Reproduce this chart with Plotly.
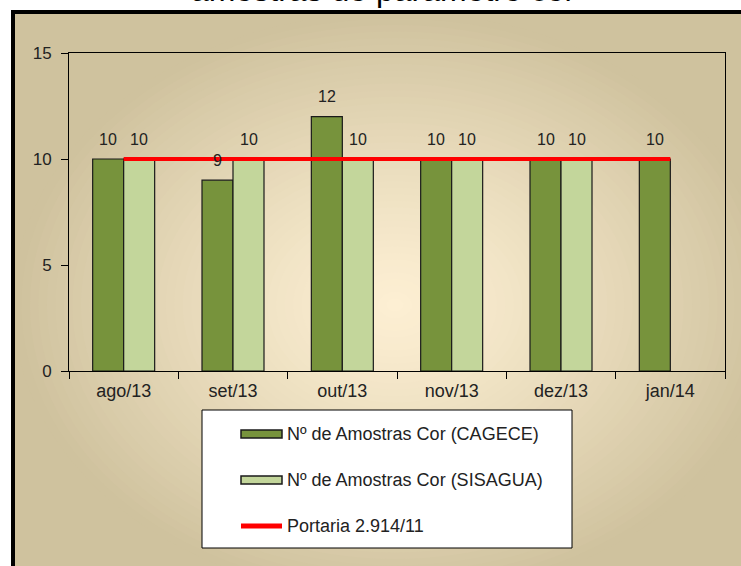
import plotly.graph_objects as go

# ---------------- data ----------------
categories = ["ago/13", "set/13", "out/13", "nov/13", "dez/13", "jan/14"]
cagece = [10, 9, 12, 10, 10, 10]
sisagua = [10, 10, 10, 10, 10, None]
portaria = [10, 10, 10, 10, 10, 10]
series_names = ["Nº de Amostras Cor (CAGECE)", "Nº de Amostras Cor (SISAGUA)", "Portaria 2.914/11"]
y_ticks = [0, 5, 10, 15]
title_text = "amostras do parâmetro cor"

# ---------------- geometry helpers ----------------
W, H = 741, 566
L, R, T, B = 69, 16, 53, 195
PW = W - L - R
PH = H - T - B


def px(x):
    return (x - L) / PW


def py(y):
    return (H - B - y) / PH


FONT = "Liberation Sans, Arial, sans-serif"
TXT = "#222222"
C_DARK = "#77933C"
C_LIGHT = "#C3D69B"
C_RED = "#FF0000"

fig = go.Figure()
fig.add_trace(go.Bar(x=categories, y=cagece, name=series_names[0],
                     marker=dict(color=C_DARK, line=dict(color="#1a1a1a", width=1.2))))
fig.add_trace(go.Bar(x=categories, y=sisagua, name=series_names[1],
                     marker=dict(color=C_LIGHT, line=dict(color="#1a1a1a", width=1.2))))
fig.add_trace(go.Scatter(x=categories, y=portaria, name=series_names[2], mode="lines",
                         line=dict(color=C_RED, width=4)))

shapes = []
# background of chart frame (edge colour), then radial-ish gradient
EDGE = (207, 194, 158)
CENTER = (253, 239, 211)
shapes.append(dict(type="rect", xref="paper", yref="paper", layer="below",
                   x0=px(13), x1=px(800), y0=py(12), y1=py(620),
                   fillcolor="rgb(%d,%d,%d)" % EDGE, line=dict(width=0)))
cx, cy = 395, 305
RX, RY = 382, 293
N = 45
for k in range(N):
    t = 1 - k / N
    f = t ** 1.25
    col = tuple(int(round(CENTER[i] + (EDGE[i] - CENTER[i]) * f)) for i in range(3))
    shapes.append(dict(type="circle", xref="paper", yref="paper", layer="below",
                       x0=px(cx - RX * t), x1=px(cx + RX * t),
                       y0=py(cy + RY * t), y1=py(cy - RY * t),
                       fillcolor="rgb(%d,%d,%d)" % col, line=dict(width=0)))
# frame border
shapes.append(dict(type="rect", xref="paper", yref="paper", layer="below",
                   x0=px(13), x1=px(800), y0=py(12), y1=py(620),
                   fillcolor="rgba(0,0,0,0)", line=dict(color="black", width=4)))

# manual legend
shapes.append(dict(type="rect", xref="paper", yref="paper",
                   x0=px(202), x1=px(572), y0=py(410), y1=py(548),
                   fillcolor="white", line=dict(color="black", width=1)))
leg_y = [434, 480, 526]
annotations = []
for name, col, yy in zip(series_names[:2], [C_DARK, C_LIGHT], leg_y[:2]):
    shapes.append(dict(type="rect", xref="paper", yref="paper",
                       x0=px(241), x1=px(282), y0=py(yy + 4), y1=py(yy - 4),
                       fillcolor=col, line=dict(color="#1a1a1a", width=1.5)))
shapes.append(dict(type="line", xref="paper", yref="paper",
                   x0=px(241), x1=px(282), y0=py(leg_y[2]), y1=py(leg_y[2]),
                   line=dict(color=C_RED, width=5)))
for name, yy in zip(series_names, leg_y):
    annotations.append(dict(xref="paper", yref="paper", x=px(285), y=py(yy),
                            xanchor="left", yanchor="middle", showarrow=False,
                            text=name, font=dict(family=FONT, size=18, color=TXT)))

# data labels
for vals, shift in ((cagece, -15.5), (sisagua, 15.5)):
    for c, v in zip(categories, vals):
        if v is None:
            continue
        annotations.append(dict(x=c, y=v, xref="x", yref="y", text=str(v),
                                showarrow=False, xshift=shift, yshift=20,
                                yanchor="middle",
                                font=dict(family=FONT, size=16, color=TXT)))

# title (partially cut by top edge)
annotations.append(dict(xref="paper", yref="paper", x=px(383), y=py(10),
                        xanchor="center", yanchor="bottom", showarrow=False,
                        text=title_text, font=dict(family=FONT, size=32, color="black")))

fig.update_layout(
    width=W, height=H,
    margin=dict(l=L, r=R, t=T, b=B, pad=0),
    paper_bgcolor="white",
    plot_bgcolor="rgba(0,0,0,0)",
    barmode="group", bargap=0.433, bargroupgap=0,
    showlegend=False,
    shapes=shapes,
    annotations=annotations,
    font=dict(family=FONT, size=16, color=TXT),
    xaxis=dict(showline=True, linecolor="black", linewidth=1, mirror=True,
               ticks="outside", tickson="boundaries", ticklen=7, tickcolor="black",
               showgrid=False, tickfont=dict(family=FONT, size=18, color=TXT),
               ticklabelstandoff=3),
    yaxis=dict(range=[0, 15], tickvals=y_ticks, showline=True, linecolor="black",
               linewidth=1, mirror=True, ticks="outside", ticklen=7, tickcolor="black",
               showgrid=False, zeroline=False,
               tickfont=dict(family=FONT, size=17, color=TXT),
               ticklabelstandoff=6),
)

fig.write_html("out.html", config={"displayModeBar": False},
               post_script="document.body.style.margin='0px';document.body.style.overflow='hidden';")
